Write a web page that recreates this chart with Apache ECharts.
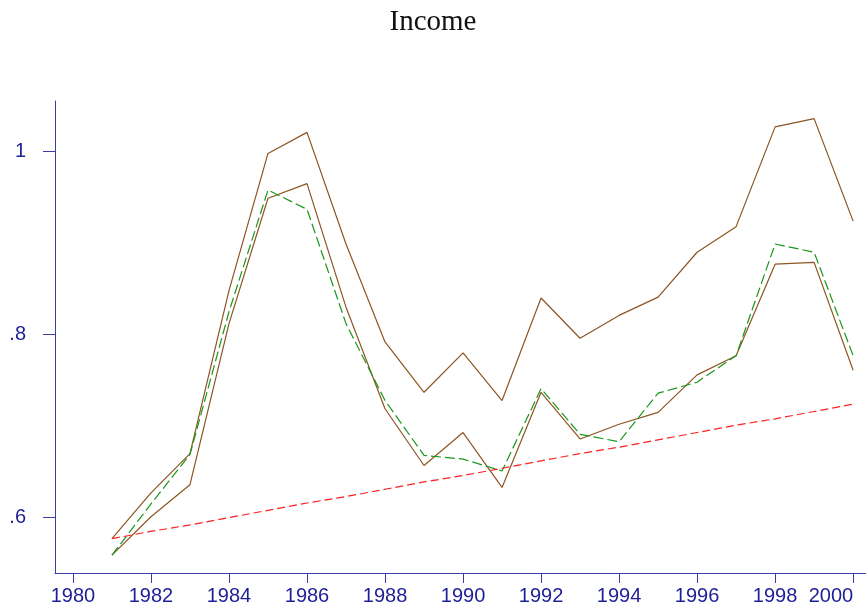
<!DOCTYPE html>
<html>
<head>
<meta charset="utf-8">
<script src="https://cdn.jsdelivr.net/npm/echarts@6/dist/echarts.min.js"></script>
<style>
  html, body { margin: 0; padding: 0; background: #fff; }
  #main { width: 866px; height: 613px; }
</style>
</head>
<body>
<div id="main"></div>
<script>
let years = [1981,1982,1983,1984,1985,1986,1987,1988,1989,1990,1991,1992,1993,1994,1995,1996,1997,1998,1999,2000];
let upperBand = [0.577,0.627,0.670,0.848,0.998,1.021,0.899,0.792,0.737,0.780,0.728,0.840,0.796,0.821,0.841,0.890,0.918,1.027,1.036,0.924];
let lowerBand = [0.559,0.601,0.636,0.812,0.949,0.965,0.830,0.719,0.657,0.693,0.633,0.737,0.686,0.702,0.715,0.756,0.777,0.877,0.879,0.761];
let fitted = [0.559,0.615,0.669,0.825,0.958,0.937,0.812,0.728,0.668,0.664,0.651,0.741,0.691,0.683,0.736,0.748,0.777,0.899,0.890,0.777];
let trend = [0.577,0.585,0.592,0.600,0.608,0.616,0.623,0.631,0.639,0.646,0.654,0.662,0.670,0.677,0.685,0.693,0.701,0.708,0.716,0.724];
let xTicks = [1980,1982,1984,1986,1988,1990,1992,1994,1996,1998,2000];
let yTicks = [0.6,0.8,1];

let axisBlue = '#3c3ca4';
let labelBlue = '#1e1e96';
let brown = '#8c5523';

function pairs(vals){
  return years.map((y,i)=>[y,vals[i]]);
}

var myChart = echarts.init(document.getElementById('main'));
var option = {
  animation: false,
  title: {
    text: 'Income',
    left: 'center',
    top: 3,
    textStyle: { fontFamily: 'Liberation Serif', fontWeight: 'normal', fontSize: 29, color: '#111' }
  },
  grid: { left: 55, right: 0, top: 101, bottom: 40, outerBoundsMode: 'none', containLabel: false },
  xAxis: {
    type: 'value',
    min: 1979.54,
    max: 2000.33,
    splitLine: { show: false },
    axisLine: { lineStyle: { color: axisBlue, width: 1 } },
    axisTick: { customValues: xTicks, length: 10, lineStyle: { color: axisBlue } },
    axisLabel: {
      customValues: xTicks, margin: 13, color: labelBlue,
      fontFamily: 'Liberation Sans', fontSize: 20,
      alignMaxLabel: 'right',
      formatter: v => String(v)
    }
  },
  yAxis: {
    type: 'value',
    min: 0.5395,
    max: 1.0553,
    splitLine: { show: false },
    axisLine: { show: true, lineStyle: { color: axisBlue, width: 1 } },
    axisTick: { show: true, customValues: yTicks, length: 12, lineStyle: { color: axisBlue } },
    axisLabel: {
      customValues: yTicks, margin: 29, color: labelBlue,
      fontFamily: 'Liberation Sans', fontSize: 20,
      formatter: v => v >= 1 ? String(v) : String(v).replace(/^0/, '')
    }
  },
  series: [
    { name: 'upper', type: 'line', symbol: 'none', data: pairs(upperBand),
      lineStyle: { color: brown, width: 1.2 } },
    { name: 'lower', type: 'line', symbol: 'none', data: pairs(lowerBand),
      lineStyle: { color: brown, width: 1.2 } },
    { name: 'fitted', type: 'line', symbol: 'none', data: pairs(fitted),
      lineStyle: { color: '#1a961a', width: 1.2, type: [10, 4] } },
    { name: 'trend', type: 'line', symbol: 'none', data: pairs(trend),
      lineStyle: { color: '#ff2020', width: 1.2, type: [8, 4] } }
  ]
};
myChart.setOption(option);
</script>
</body>
</html>
